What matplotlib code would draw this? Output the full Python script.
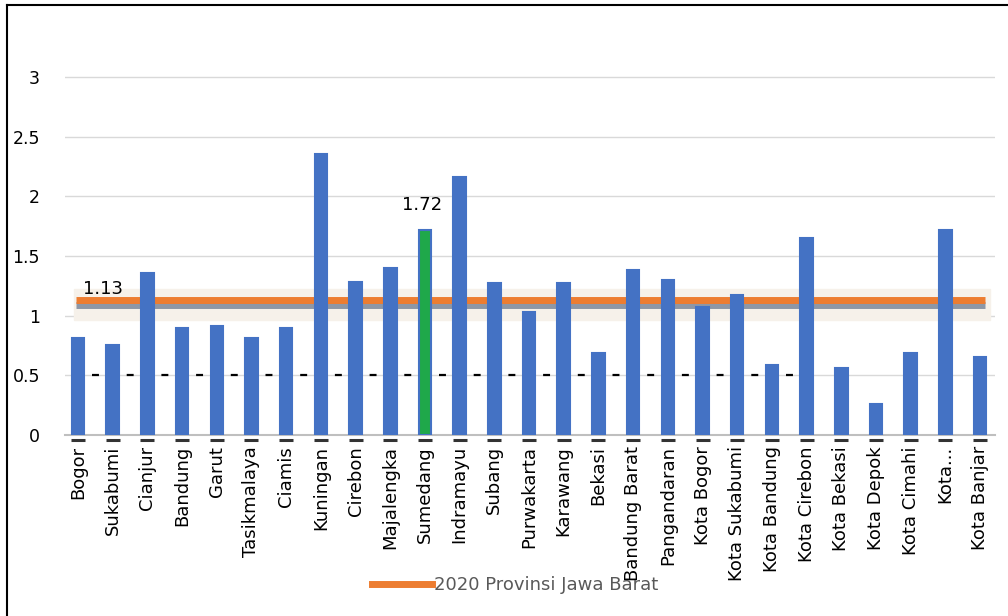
import matplotlib.pyplot as plt
from matplotlib.lines import Line2D

# data
regions = ['Bogor', 'Sukabumi', 'Cianjur', 'Bandung', 'Garut', 'Tasikmalaya',
           'Ciamis', 'Kuningan', 'Cirebon', 'Majalengka', 'Sumedang', 'Indramayu',
           'Subang', 'Purwakarta', 'Karawang', 'Bekasi', 'Bandung Barat',
           'Pangandaran', 'Kota Bogor', 'Kota Sukabumi', 'Kota Bandung',
           'Kota Cirebon', 'Kota Bekasi', 'Kota Depok', 'Kota Cimahi', 'Kota...',
           'Kota Banjar']
values = [0.81, 0.75, 1.36, 0.90, 0.91, 0.81, 0.90, 2.35, 1.28, 1.40, 1.72, 2.16,
          1.27, 1.03, 1.27, 0.69, 1.38, 1.30, 1.07, 1.17, 0.59, 1.65, 0.56, 0.26,
          0.69, 1.72, 0.65]
highlight = 'Sumedang'
province_value = 1.13
reference_value = 0.5
yticks = [0, 0.5, 1, 1.5, 2, 2.5, 3]
yticklabels = ['0', '0.5', '1', '1.5', '2', '2.5', '3']
legend_label = '2020 Provinsi Jawa Barat'

blue = '#4472C4'
green = '#1FA84A'
orange = '#ED7D31'

fig = plt.figure(figsize=(10.08, 6.16), dpi=100)
ax = fig.add_axes([65 / 1008, 1 - 435 / 616, 930 / 1008, 394 / 616])

x = list(range(len(regions)))
colors = [green if r == highlight else blue for r in regions]
ax.bar(x, values, width=0.36, color=colors, edgecolor=blue, linewidth=1.5, zorder=3)

# faint band and province line
ax.axhspan(0.96, 1.22, xmin=0.01, xmax=0.995, color='#F6F1EA', zorder=1)
ax.hlines(1.085, -0.05, 26.15, color='#8E97A6', linewidth=5, zorder=2)
ax.hlines(province_value, -0.05, 26.15, color=orange, linewidth=5, zorder=2)

# dashed reference line, one dash in each gap between bars
lw = 1.6
slot_pt = 34.7 * 72 / 100
ax.hlines(reference_value, 0.4, 20.6, color='black', linewidth=lw,
          linestyles=(0, (5.0 / lw, (slot_pt - 5.0) / lw)), zorder=2)

# small dark marks under the bars
ax.plot(x, [-0.04] * len(x), linestyle='none', marker='_', markersize=10,
        markeredgewidth=2.2, color='#333333', clip_on=False, zorder=3)

ax.text(0.15, 1.22, f'{province_value:.2f}', fontsize=13, va='center', ha='left', zorder=4)
i = regions.index(highlight)
ax.text(i - 0.66, 1.93, f'{values[i]:.2f}', fontsize=13, va='center', ha='left', zorder=4)

ax.set_xlim(-0.375, 26.43)
ax.set_ylim(0, 3.3)
ax.set_yticks(yticks)
ax.set_yticklabels(yticklabels, fontsize=12.5)
ax.set_xticks(x)
ax.set_xticklabels(regions, rotation=90, fontsize=13, va='top')
ax.tick_params(axis='y', length=0, pad=18)
ax.tick_params(axis='x', length=0, pad=8)
ax.grid(axis='y', color='#D9D9D9', linewidth=1, zorder=0)
ax.set_axisbelow(True)
for s in ['top', 'right', 'left']:
    ax.spines[s].set_visible(False)
ax.spines['bottom'].set_color('#BFBFBF')
ax.spines['bottom'].set_linewidth(1.5)

handle = Line2D([0], [0], color=orange, linewidth=5)
fig.legend([handle], [legend_label], loc='center', bbox_to_anchor=(515 / 1008, 1 - 585 / 616),
           frameon=False, handlelength=3.3, handletextpad=0.1,
           prop={'family': ['Liberation Sans Narrow', 'DejaVu Sans'], 'size': 13},
           labelcolor='#595959')

# outer frame (top and left edges visible)
fig.add_artist(Line2D([7 / 1008, 7 / 1008], [0, 1 - 5 / 616], color='black', linewidth=1.5,
                      transform=fig.transFigure))
fig.add_artist(Line2D([7 / 1008, 1], [1 - 5 / 616, 1 - 5 / 616], color='black', linewidth=1.5,
                      transform=fig.transFigure))

fig.savefig('out.png', dpi=100)
